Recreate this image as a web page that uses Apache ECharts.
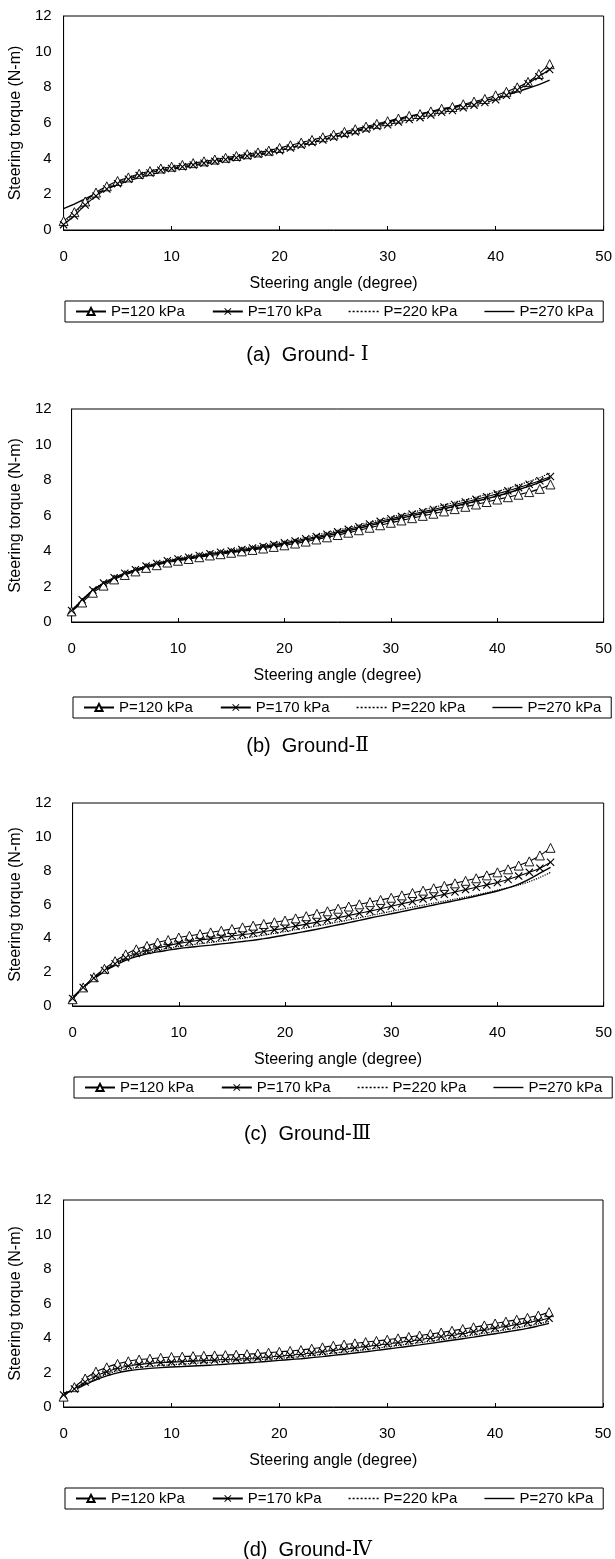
<!DOCTYPE html>
<html><head><meta charset="utf-8">
<script src="https://cdn.jsdelivr.net/npm/echarts@6/dist/echarts.min.js"></script>
<style>html,body{margin:0;padding:0;background:#fff}#c{width:615px;height:1559px}</style>
</head><body><div id="c"></div>
<script>
const angles = [0,1,2,3,4,5,6,7,8,9,10,11,12,13,14,15,16,17,18,19,20,21,22,23,24,25,26,27,28,29,30,31,32,33,34,35,36,37,38,39,40,41,42,43,44,45];
const xTicks = [0,10,20,30,40,50];
const yTicks = [0,2,4,6,8,10,12];
const seriesNames = ['P=120 kPa','P=170 kPa','P=220 kPa','P=270 kPa'];
const captions = ['(a)  Ground- ','(b)  Ground-','(c)  Ground-','(d)  Ground-'];
const numerals = ['Ⅰ','Ⅱ','Ⅲ','Ⅳ'];
const xTitle = 'Steering angle (degree)';
const yTitle = 'Steering torque (N-m)';

const a120 = [0.5,1.0,1.6,2.1,2.45,2.75,2.95,3.15,3.3,3.45,3.55,3.65,3.75,3.85,3.95,4.05,4.15,4.25,4.35,4.45,4.6,4.75,4.9,5.05,5.2,5.35,5.5,5.65,5.8,5.95,6.1,6.25,6.4,6.5,6.65,6.8,6.9,7.05,7.2,7.35,7.55,7.75,8.0,8.3,8.75,9.3];
const a170 = [0.3,0.8,1.4,1.9,2.3,2.6,2.85,3.05,3.2,3.35,3.45,3.55,3.65,3.75,3.85,3.95,4.05,4.15,4.25,4.35,4.45,4.6,4.75,4.9,5.05,5.2,5.35,5.5,5.65,5.8,5.9,6.05,6.2,6.3,6.45,6.6,6.7,6.85,7.0,7.15,7.3,7.55,7.85,8.2,8.6,9.0];
const a220 = [0.4,0.9,1.5,2.0,2.35,2.65,2.9,3.1,3.25,3.4,3.5,3.6,3.7,3.8,3.9,4.0,4.1,4.2,4.3,4.4,4.5,4.65,4.8,4.95,5.1,5.25,5.4,5.55,5.7,5.85,6.0,6.15,6.3,6.4,6.55,6.7,6.8,6.95,7.1,7.25,7.45,7.65,7.9,8.25,8.6,9.0];
const a270 = [1.2,1.45,1.75,2.05,2.3,2.55,2.75,2.95,3.1,3.25,3.4,3.5,3.6,3.7,3.8,3.9,4.0,4.1,4.2,4.32,4.45,4.6,4.75,4.9,5.05,5.2,5.38,5.55,5.72,5.88,6.05,6.2,6.35,6.5,6.62,6.75,6.88,7.0,7.12,7.25,7.4,7.55,7.75,7.95,8.15,8.4];

const b120 = [0.6,1.1,1.65,2.05,2.4,2.65,2.85,3.05,3.2,3.35,3.45,3.55,3.65,3.75,3.82,3.9,3.98,4.06,4.14,4.23,4.32,4.42,4.53,4.65,4.77,4.9,5.03,5.17,5.31,5.45,5.59,5.72,5.85,5.98,6.1,6.23,6.36,6.49,6.62,6.76,6.9,7.03,7.17,7.32,7.5,7.75];
const b170 = [0.65,1.25,1.8,2.2,2.5,2.75,2.95,3.15,3.3,3.45,3.55,3.65,3.75,3.85,3.93,4.0,4.08,4.17,4.26,4.36,4.46,4.57,4.69,4.81,4.94,5.08,5.22,5.37,5.52,5.67,5.82,5.95,6.08,6.21,6.34,6.48,6.62,6.76,6.91,7.06,7.22,7.39,7.57,7.76,7.96,8.2];
const b220 = [0.65,1.25,1.8,2.2,2.5,2.75,2.97,3.17,3.33,3.48,3.6,3.7,3.8,3.9,3.98,4.06,4.15,4.24,4.33,4.43,4.54,4.65,4.77,4.9,5.03,5.17,5.31,5.46,5.61,5.76,5.91,6.05,6.18,6.32,6.46,6.6,6.74,6.88,7.03,7.19,7.35,7.53,7.72,7.92,8.14,8.4];
const b270 = [0.6,1.2,1.75,2.15,2.45,2.7,2.9,3.1,3.25,3.4,3.5,3.6,3.7,3.8,3.88,3.95,4.03,4.12,4.2,4.3,4.4,4.5,4.62,4.74,4.86,5.0,5.14,5.28,5.43,5.58,5.73,5.86,5.99,6.12,6.25,6.38,6.52,6.66,6.8,6.95,7.1,7.27,7.45,7.65,7.87,8.1];

const c120 = [0.4,1.1,1.7,2.2,2.65,3.05,3.35,3.55,3.75,3.9,4.05,4.15,4.25,4.35,4.45,4.55,4.65,4.75,4.85,4.95,5.05,5.18,5.31,5.45,5.6,5.75,5.88,6.01,6.14,6.27,6.4,6.54,6.68,6.82,6.96,7.1,7.25,7.4,7.55,7.72,7.9,8.08,8.3,8.55,8.9,9.35];
const c170 = [0.45,1.1,1.65,2.1,2.5,2.85,3.1,3.28,3.43,3.57,3.7,3.8,3.9,3.98,4.06,4.14,4.22,4.3,4.4,4.5,4.6,4.72,4.84,4.96,5.09,5.22,5.35,5.48,5.61,5.75,5.9,6.04,6.18,6.32,6.46,6.6,6.74,6.88,7.02,7.16,7.3,7.48,7.68,7.9,8.15,8.5];
const c220 = [0.45,1.05,1.6,2.05,2.45,2.75,3.0,3.15,3.3,3.42,3.52,3.6,3.68,3.76,3.84,3.92,4.0,4.09,4.19,4.29,4.4,4.51,4.62,4.73,4.85,4.97,5.09,5.21,5.34,5.47,5.6,5.72,5.84,5.96,6.08,6.2,6.32,6.44,6.56,6.7,6.85,7.0,7.15,7.35,7.6,7.9];
const c270 = [0.5,1.1,1.6,2.05,2.4,2.7,2.92,3.08,3.2,3.3,3.4,3.47,3.54,3.6,3.67,3.74,3.81,3.89,3.98,4.08,4.2,4.3,4.42,4.54,4.67,4.8,4.93,5.06,5.2,5.33,5.45,5.58,5.71,5.84,5.97,6.1,6.23,6.36,6.5,6.65,6.8,6.98,7.2,7.5,7.85,8.2];

const d120 = [0.6,1.15,1.65,2.05,2.3,2.5,2.65,2.75,2.8,2.85,2.9,2.92,2.95,2.97,2.99,3.01,3.03,3.06,3.1,3.15,3.2,3.25,3.3,3.38,3.46,3.55,3.62,3.69,3.76,3.83,3.9,3.98,4.06,4.14,4.23,4.32,4.42,4.52,4.62,4.73,4.84,4.95,5.06,5.17,5.3,5.5];
const d170 = [0.7,1.05,1.45,1.8,2.05,2.25,2.38,2.47,2.53,2.57,2.6,2.63,2.66,2.69,2.72,2.75,2.78,2.81,2.85,2.9,2.95,3.01,3.07,3.14,3.21,3.28,3.35,3.42,3.5,3.58,3.66,3.74,3.82,3.91,4.0,4.09,4.18,4.27,4.37,4.47,4.57,4.67,4.78,4.89,5.01,5.15];
const d220 = [0.75,1.0,1.35,1.65,1.9,2.1,2.22,2.3,2.36,2.41,2.45,2.49,2.53,2.57,2.61,2.65,2.69,2.72,2.75,2.78,2.82,2.87,2.93,2.99,3.05,3.12,3.19,3.26,3.33,3.41,3.49,3.57,3.65,3.73,3.81,3.9,3.99,4.08,4.18,4.28,4.38,4.48,4.59,4.7,4.82,4.95];
const d270 = [0.8,1.0,1.3,1.58,1.8,1.98,2.1,2.18,2.24,2.28,2.32,2.35,2.38,2.41,2.44,2.48,2.52,2.56,2.6,2.65,2.7,2.75,2.8,2.86,2.92,2.99,3.06,3.13,3.2,3.28,3.36,3.44,3.52,3.6,3.69,3.78,3.87,3.96,4.05,4.15,4.25,4.35,4.45,4.56,4.7,4.85];

const panelData = [[a120,a170,a220,a270],[b120,b170,b220,b270],[c120,c170,c220,c270],[d120,d170,d220,d270]];

// layout (pixels)
const layout = [
  {top:16,  h:214, left:62, right:10, labMargin:12, legTop:301, capTop:340},
  {top:409, h:213, left:70, right:10, labMargin:20, legTop:697, capTop:731},
  {top:803, h:203, left:71, right:10, labMargin:21, legTop:1077, capTop:1119},
  {top:1200,h:207, left:62, right:12, labMargin:12, legTop:1488, capTop:1535}
];

const FONT = 'Liberation Sans, Arial, sans-serif';
const crossPath = 'path://M0,1L1,0L5,4L9,0L10,1L6,5L10,9L9,10L5,6L1,10L0,9L4,5Z';
const dottedIcon = 'path://M0,4h2v1.4h-2zM4,4h2v1.4h-2zM8,4h2v1.4h-2zM12,4h2v1.4h-2zM16,4h2v1.4h-2zM20,4h2v1.4h-2zM24,4h2v1.4h-2zM28,4h2v1.4h-2z';
const solidIcon = 'path://M0,4h30v1.4h-30z';

const grid=[], xAxis=[], yAxis=[], series=[], legend=[], title=[];
layout.forEach((L,i)=>{
  grid.push({left:L.left, right:L.right, top:L.top, height:L.h, show:true, borderColor:'#000', borderWidth:1, backgroundColor:'transparent'});
  xAxis.push({gridIndex:i, type:'value', min:xTicks[0], max:xTicks[xTicks.length-1], interval:xTicks[1]-xTicks[0],
    axisLine:{lineStyle:{color:'#000',width:1}}, axisTick:{inside:true,length:4,lineStyle:{color:'#000'}},
    splitLine:{show:false}, axisLabel:{color:'#000',fontSize:15,fontFamily:FONT,margin:19},
    name:xTitle, nameLocation:'middle', nameGap:46, nameTextStyle:{color:'#000',fontSize:16,fontFamily:FONT}});
  yAxis.push({gridIndex:i, type:'value', min:yTicks[0], max:yTicks[yTicks.length-1], interval:yTicks[1]-yTicks[0],
    axisLine:{show:true,lineStyle:{color:'#000',width:1}}, axisTick:{show:false},
    splitLine:{show:false}, axisLabel:{color:'#000',fontSize:15,fontFamily:FONT,margin:L.labMargin},
    name:yTitle, nameLocation:'middle', nameGap:L.left-24, nameRotate:90, nameTextStyle:{color:'#000',fontSize:16,fontFamily:FONT}});
  const d = panelData[i];
  const common = {type:'line', xAxisIndex:i, yAxisIndex:i, smooth:0.3, animation:false, z:2};
  series.push(Object.assign({}, common, {name:seriesNames[0], data:angles.map((x,k)=>[x,d[0][k]]),
    symbol:'triangle', symbolSize:9, itemStyle:{color:'#fff',borderColor:'#000',borderWidth:0.9},
    lineStyle:{color:'#000',width:1.1}}));
  series.push(Object.assign({}, common, {name:seriesNames[1], data:angles.map((x,k)=>[x,d[1][k]]),
    symbol:crossPath, symbolSize:8, itemStyle:{color:'#000'},
    lineStyle:{color:'#000',width:1.1}}));
  series.push(Object.assign({}, common, {name:seriesNames[2], data:angles.map((x,k)=>[x,d[2][k]]),
    symbol:'none', itemStyle:{color:'#000'},
    lineStyle:{color:'#000',width:1.2,type:'dotted'}}));
  series.push(Object.assign({}, common, {name:seriesNames[3], data:angles.map((x,k)=>[x,d[3][k]]),
    symbol:'none', itemStyle:{color:'#000'},
    lineStyle:{color:'#000',width:1.4}}));
  legend.push({top:L.legTop, left:L.left+3, orient:'horizontal', selectedMode:false,
    data:[{name:seriesNames[0]},{name:seriesNames[1]},{name:seriesNames[2],icon:dottedIcon,itemStyle:{color:'#000'}},{name:seriesNames[3],icon:solidIcon,itemStyle:{color:'#000'}}],
    borderColor:'#000', borderWidth:1, padding:[3,10,3,10], itemGap:27, itemWidth:30, itemHeight:9,
    textStyle:{color:'#000',fontSize:15,fontFamily:FONT}});
  title.push({text:'{t|'+captions[i]+'}{r|'+numerals[i]+'}', left:'center', top:L.capTop,
    textStyle:{rich:{t:{fontSize:20,fontWeight:'normal',fontFamily:FONT,color:'#000'}, r:{fontSize:20,fontWeight:'normal',fontFamily:'DejaVu Serif, serif',color:'#000'}}}});
});

const chart = echarts.init(document.getElementById('c'), null, {renderer:'canvas'});
chart.setOption({animation:false, backgroundColor:'#fff', grid, xAxis, yAxis, series, legend, title});
</script></body></html>
